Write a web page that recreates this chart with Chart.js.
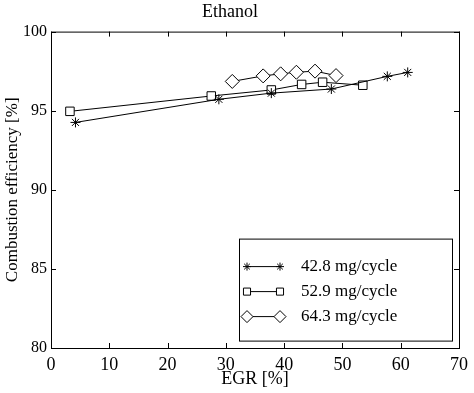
<!DOCTYPE html>
<html>
<head>
<meta charset="utf-8">
<script src="https://cdn.jsdelivr.net/npm/chart.js@4/dist/chart.umd.min.js"></script>
<style>
  html, body { margin: 0; padding: 0; background: #fff; }
  #wrap { width: 474px; height: 393px; }
</style>
</head>
<body>
<div id="wrap"><canvas id="c" width="474" height="393"></canvas></div>
<script>
// values
const egr428 = [4.2, 28.8, 37.8, 48.1, 57.7, 61.2];
const eff428 = [94.26, 95.72, 96.11, 96.37, 97.17, 97.42];

const egr529 = [3.25, 27.5, 37.8, 43.0, 46.6, 53.5];
const eff529 = [94.96, 95.93, 96.31, 96.66, 96.80, 96.61];

const egr643 = [31.1, 36.4, 39.4, 42.1, 45.3, 48.9];
const eff643 = [96.85, 97.2, 97.33, 97.43, 97.5, 97.22];

const seriesLabels = ['42.8 mg/cycle', '52.9 mg/cycle', '64.3 mg/cycle'];
const xTicks = [0, 10, 20, 30, 40, 50, 60, 70];
const yTicks = [80, 85, 90, 95, 100];

const SERIF = '"Liberation Serif", "DejaVu Serif", serif';

function toPoints(xs, ys) {
  return xs.map((x, i) => ({ x: x, y: ys[i] }));
}

// box round the plot with inward ticks on all four sides (matlab style)
const boxTicks = {
  id: 'boxTicks',
  afterDatasetsDraw(chart) {
    const { ctx, chartArea: a, scales } = chart;
    const len = 5;
    ctx.save();
    ctx.strokeStyle = '#000';
    ctx.lineWidth = 1;
    ctx.strokeRect(a.left + 0.5, a.top + 0.5, a.right - a.left, a.bottom - a.top);
    ctx.beginPath();
    xTicks.forEach(v => {
      const px = Math.round(scales.x.getPixelForValue(v)) + 0.5;
      ctx.moveTo(px, a.bottom); ctx.lineTo(px, a.bottom - len);
      ctx.moveTo(px, a.top); ctx.lineTo(px, a.top + len);
    });
    yTicks.forEach(v => {
      const py = Math.round(scales.y.getPixelForValue(v)) + 0.5;
      ctx.moveTo(a.left, py); ctx.lineTo(a.left + len, py);
      ctx.moveTo(a.right, py); ctx.lineTo(a.right - len, py);
    });
    ctx.stroke();
    ctx.restore();
  }
};

// legend box inside the plot, lower right
const boxLegend = {
  id: 'boxLegend',
  afterDraw(chart) {
    const { ctx, chartArea: a } = chart;
    const x0 = a.left + 188, y0 = a.top + 207, w = 213, h = 102;
    ctx.save();
    ctx.fillStyle = '#fff';
    ctx.fillRect(x0, y0, w, h);
    ctx.strokeStyle = '#000';
    ctx.lineWidth = 1;
    ctx.strokeRect(x0 + 0.5, y0 + 0.5, w, h);
    chart.data.datasets.forEach((ds, i) => {
      const y = y0 + 28 + i * 25;
      const xa = x0 + 8, xb = x0 + 41;
      ctx.strokeStyle = '#000';
      ctx.lineWidth = 1;
      ctx.beginPath();
      ctx.moveTo(xa, y); ctx.lineTo(xb, y);
      ctx.stroke();
      const opts = {
        pointStyle: ds.pointStyle,
        radius: ds.pointRadius - 1,
        borderWidth: 1
      };
      [xa, xb].forEach(px => {
        ctx.fillStyle = ds.pointBackgroundColor;
        ctx.strokeStyle = '#000';
        Chart.helpers.drawPoint(ctx, opts, px, y);
      });
      ctx.fillStyle = '#000';
      ctx.font = '17px ' + SERIF;
      ctx.textBaseline = 'middle';
      ctx.textAlign = 'left';
      ctx.fillText(ds.label, x0 + 62, y);
    });
    ctx.restore();
  }
};

new Chart(document.getElementById('c'), {
  type: 'line',
  data: {
    datasets: [
      {
        label: seriesLabels[0],
        data: toPoints(egr428, eff428),
        borderColor: '#000',
        borderWidth: 1,
        pointStyle: 'star',
        pointRadius: 5,
        pointBorderWidth: 1,
        pointBorderColor: '#000',
        pointBackgroundColor: '#000'
      },
      {
        label: seriesLabels[1],
        data: toPoints(egr529, eff529),
        borderColor: '#000',
        borderWidth: 1,
        pointStyle: 'rect',
        pointRadius: 6,
        pointBorderWidth: 1,
        pointBorderColor: '#000',
        pointBackgroundColor: '#fff'
      },
      {
        label: seriesLabels[2],
        data: toPoints(egr643, eff643),
        borderColor: '#000',
        borderWidth: 1,
        pointStyle: 'rectRot',
        pointRadius: 7,
        pointBorderWidth: 1,
        pointBorderColor: '#000',
        pointBackgroundColor: '#fff'
      }
    ]
  },
  options: {
    responsive: false,
    animation: false,
    devicePixelRatio: 1,
    layout: { padding: { top: 0, right: 14, bottom: 0, left: 0 } },
    elements: { line: { tension: 0 } },
    scales: {
      x: {
        type: 'linear',
        min: 0,
        max: 70,
        afterBuildTicks: s => { s.ticks = xTicks.map(v => ({ value: v })); },
        afterFit: s => { s.height = 45; },
        grid: { display: false, drawTicks: false },
        border: { display: false },
        ticks: { color: '#000', font: { family: SERIF, size: 18 }, padding: 6, maxRotation: 0 },
        title: {
          display: true,
          text: 'EGR [%]',
          color: '#000',
          font: { family: SERIF, size: 18 },
          padding: { top: 0, bottom: 3 }
        }
      },
      y: {
        type: 'linear',
        min: 80,
        max: 100,
        afterBuildTicks: s => { s.ticks = yTicks.map(v => ({ value: v })); },
        afterFit: s => { s.width = 51; },
        grid: { display: false, drawTicks: false },
        border: { display: false },
        ticks: { color: '#000', font: { family: SERIF, size: 16 }, padding: 4 },
        title: {
          display: true,
          text: 'Combustion efficiency [%]',
          color: '#000',
          font: { family: SERIF, size: 17 },
          padding: { top: 2, bottom: 0 }
        }
      }
    },
    plugins: {
      legend: { display: false },
      tooltip: { enabled: false },
      title: {
        display: true,
        text: 'Ethanol',
        color: '#000',
        font: { family: SERIF, size: 18, weight: 'normal' },
        padding: { top: 1, bottom: 9 }
      }
    }
  },
  plugins: [boxTicks, boxLegend]
});
</script>
</body>
</html>
